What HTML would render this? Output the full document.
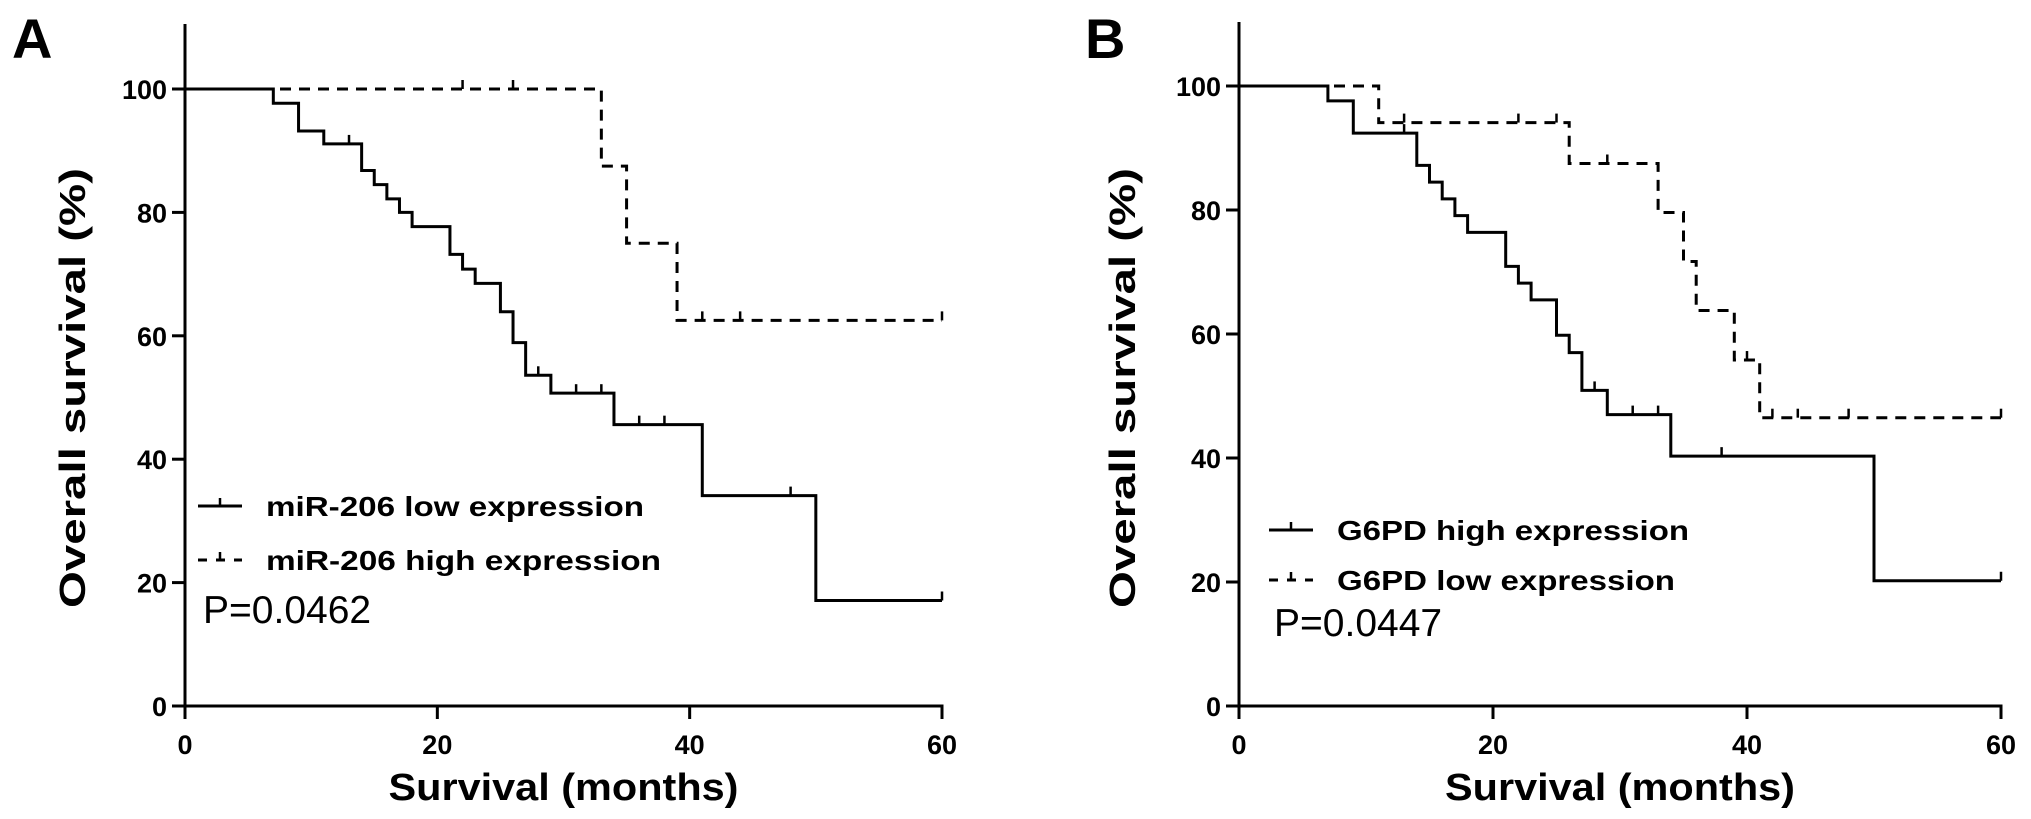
<!DOCTYPE html>
<html><head><meta charset="utf-8">
<style>
html,body{margin:0;padding:0;background:#fff;}
svg{display:block;font-family:"Liberation Sans",Arial,sans-serif;}
</style></head>
<body>
<svg id="fig" width="2031" height="819" viewBox="0 0 2031 819" xmlns="http://www.w3.org/2000/svg"></svg>
<script>
// ---- Data: Panel A ----
const xTicks = [0, 20, 40, 60];
const yTicks = [0, 20, 40, 60, 80, 100];
const aLowTimes  = [0, 7, 9, 11, 14, 15, 16, 17, 18, 21, 22, 23, 25, 26, 27, 29, 34, 41, 50, 60];
const aLowVals   = [100, 97.7, 93.2, 91.1, 86.8, 84.5, 82.2, 80.0, 77.7, 73.2, 70.8, 68.5, 63.9, 58.9, 53.6, 50.7, 45.6, 34.1, 17.1, 17.1];
const aLowCens   = [13, 28, 31, 33, 36, 38, 48, 60];
const aHighTimes = [0, 33, 35, 39, 60];
const aHighVals  = [100, 87.5, 75.0, 62.5, 62.5];
const aHighCens  = [22, 26, 41, 44, 60];
// ---- Data: Panel B ----
const bHighTimes = [0, 7, 9, 14, 15, 16, 17, 18, 21, 22, 23, 25, 26, 27, 29, 34, 50, 60];
const bHighVals  = [100, 97.6, 92.4, 87.2, 84.5, 81.8, 79.1, 76.4, 70.9, 68.2, 65.5, 59.8, 57.0, 50.9, 47.0, 40.3, 20.2, 20.2];
const bHighCens  = [13, 28, 31, 33, 38, 60];
const bLowTimes  = [0, 11, 26, 33, 35, 36, 39, 41, 60];
const bLowVals   = [100, 94.1, 87.5, 79.6, 71.7, 63.8, 55.8, 46.5, 46.5];
const bLowCens   = [13, 22, 25, 29, 40, 42, 44, 48, 60];

const NS = "http://www.w3.org/2000/svg";
const svg = document.getElementById('fig');
function el(tag, attrs, parent) {
  const e = document.createElementNS(NS, tag);
  for (const k in attrs) e.setAttribute(k, attrs[k]);
  (parent || svg).appendChild(e);
  return e;
}

function panel(cfg) {
  const g = el('g', {});
  
  
  const xs = t => cfg.x0 + (cfg.x1 - cfg.x0) * t / 60;
  const ys = v => cfg.y0 + (cfg.y100 - cfg.y0) * v / 100;

  const L = el('text', {x: cfg.letterX, y: 58, 'font-size': 56, 'font-weight': 'bold'}, g);
  L.textContent = cfg.letter;
  
  

  const ya = el('line', {x1: cfg.x0, y1: cfg.top, x2: cfg.x0, y2: cfg.y0 + 1.5, stroke: '#000', 'stroke-width': 3}, g);
  
  
  const xa = el('line', {x1: cfg.x0 - 1.5, y1: cfg.y0, x2: cfg.x1 + 1.5, y2: cfg.y0, stroke: '#000', 'stroke-width': 3}, g);
  
  

  yTicks.forEach(v => {
    const tk = el('line', {x1: cfg.x0 - 13, y1: ys(v), x2: cfg.x0, y2: ys(v), stroke: '#000', 'stroke-width': 3}, g);
    
    
    const t = el('text', {x: cfg.x0 - 18, y: ys(v) + 10, 'font-size': 27, 'font-weight': 'bold', 'text-anchor': 'end'}, g);
    t.textContent = v;
    
    
  });
  xTicks.forEach(v => {
    const tk = el('line', {x1: xs(v), y1: cfg.y0, x2: xs(v), y2: cfg.y0 + 13, stroke: '#000', 'stroke-width': 3}, g);
    
    
    const t = el('text', {x: xs(v), y: cfg.y0 + 48, 'font-size': 27, 'font-weight': 'bold', 'text-anchor': 'middle'}, g);
    t.textContent = v;
    
    
  });

  const xt = el('text', {x: (cfg.x0 + cfg.x1) / 2, y: 800, 'font-size': 38, 'font-weight': 'bold', 'text-anchor': 'middle', textLength: 350, lengthAdjust: 'spacingAndGlyphs'}, g);
  xt.textContent = 'Survival (months)';
  
  
  const yt = el('text', {x: 0, y: 0, 'font-size': 36, 'font-weight': 'bold', 'text-anchor': 'middle', textLength: 440, lengthAdjust: 'spacingAndGlyphs', transform: `translate(${cfg.titleX + 13},388) rotate(-90)`}, g);
  yt.textContent = 'Overall survival (%)';
  
  

  function curve(times, vals, cens, dashed, name) {
    let d = `M${xs(times[0])},${ys(vals[0])}`;
    for (let i = 1; i < times.length; i++) {
      d += ` H${xs(times[i])} V${ys(vals[i])}`;
    }
    const p = el('path', {d: d, fill: 'none', stroke: '#000', 'stroke-width': 3, 'stroke-dasharray': dashed ? '11 8' : 'none'}, g);
    
    
    cens.forEach(c => {
      let v = vals[0];
      for (let i = 0; i < times.length; i++) if (times[i] <= c) v = vals[i];
      const m = el('line', {x1: xs(c), y1: ys(v), x2: xs(c), y2: ys(v) - 9, stroke: '#000', 'stroke-width': 2.5}, g);
      
      
    });
  }
  curve(cfg.sTimes, cfg.sVals, cfg.sCens, false, cfg.sName);
  curve(cfg.dTimes, cfg.dVals, cfg.dCens, true, cfg.dName);

  const lg = el('g', {}, g);
  
  
  const l1 = el('line', {x1: cfg.legX, y1: cfg.legY1, x2: cfg.legX + 44, y2: cfg.legY1, stroke: '#000', 'stroke-width': 3}, lg);
  
  
  el('line', {x1: cfg.legX + 22, y1: cfg.legY1, x2: cfg.legX + 22, y2: cfg.legY1 - 8, stroke: '#000', 'stroke-width': 2.5}, lg);
  const l2 = el('line', {x1: cfg.legX, y1: cfg.legY2, x2: cfg.legX + 44, y2: cfg.legY2, stroke: '#000', 'stroke-width': 3, 'stroke-dasharray': '9 9'}, lg);
  
  
  el('line', {x1: cfg.legX + 22, y1: cfg.legY2, x2: cfg.legX + 22, y2: cfg.legY2 - 8, stroke: '#000', 'stroke-width': 2.5}, lg);
  const t1 = el('text', {x: cfg.legX + 68, y: cfg.legY1 + 10, 'font-size': 28, 'font-weight': 'bold', textLength: cfg.leg1W, lengthAdjust: 'spacingAndGlyphs'}, lg);
  t1.textContent = cfg.leg1;
  
  
  const t2 = el('text', {x: cfg.legX + 68, y: cfg.legY2 + 10, 'font-size': 28, 'font-weight': 'bold', textLength: cfg.leg2W, lengthAdjust: 'spacingAndGlyphs'}, lg);
  t2.textContent = cfg.leg2;
  
  
  const pv = el('text', {x: cfg.legX + 5, y: cfg.pY, 'font-size': 39}, g);
  pv.textContent = cfg.p;
  
  
}

panel({name: 'panel-a', letter: 'A', letterX: 12, x0: 185, x1: 942, y0: 706, y100: 89, top: 24, titleX: 72,
  sTimes: aLowTimes, sVals: aLowVals, sCens: aLowCens, sName: 'mir206-low-curve',
  dTimes: aHighTimes, dVals: aHighVals, dCens: aHighCens, dName: 'mir206-high-curve',
  legX: 198, legY1: 506, legY2: 560, leg1: 'miR-206 low expression', leg2: 'miR-206 high expression', leg1W: 378, leg2W: 395,
  p: 'P=0.0462', pY: 623});
panel({name: 'panel-b', letter: 'B', letterX: 1085, x0: 1239, x1: 2001, y0: 706, y100: 86, top: 22, titleX: 1122,
  sTimes: bHighTimes, sVals: bHighVals, sCens: bHighCens, sName: 'g6pd-high-curve',
  dTimes: bLowTimes, dVals: bLowVals, dCens: bLowCens, dName: 'g6pd-low-curve',
  legX: 1269, legY1: 530, legY2: 580, leg1: 'G6PD high expression', leg2: 'G6PD low expression', leg1W: 352, leg2W: 338,
  p: 'P=0.0447', pY: 636});
</script>
</body></html>
